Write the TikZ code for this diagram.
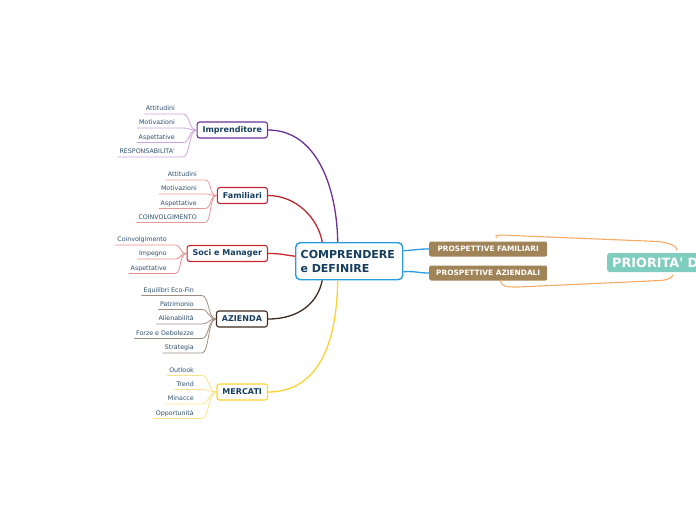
\documentclass[tikz,border=0pt]{standalone}
\usepackage{fontspec}
\newfontfamily\dvs{DejaVu Sans}
\usetikzlibrary{positioning}

\definecolor{txtblue}{RGB}{22,62,96}
\definecolor{leafblue}{RGB}{45,78,108}
\definecolor{impc}{RGB}{108,48,150}
\definecolor{impl}{RGB}{205,165,222}
\definecolor{famc}{RGB}{192,38,48}
\definecolor{faml}{RGB}{232,150,150}
\definecolor{socc}{RGB}{200,40,46}
\definecolor{socl}{RGB}{232,140,140}
\definecolor{azic}{RGB}{62,42,32}
\definecolor{azil}{RGB}{160,140,128}
\definecolor{merc}{RGB}{250,210,50}
\definecolor{merl}{RGB}{250,226,140}
\definecolor{ctrc}{RGB}{42,156,222}
\definecolor{prosp}{RGB}{160,131,86}
\definecolor{prio}{RGB}{126,205,190}
\definecolor{bracketc}{RGB}{246,170,100}

\begin{document}
\begin{tikzpicture}[x=1pt,y=-1pt,
  branch/.style={draw,fill=white,anchor=east,rounded corners=2.5pt,line width=1.1pt,
    font=\dvs\bfseries\fontsize{8}{9}\selectfont,text=txtblue,minimum height=16pt,inner xsep=5.5pt,inner ysep=0pt},
  leaf/.style={anchor=south east,font=\dvs\fontsize{6.3}{7}\selectfont,text=leafblue,
    inner xsep=2pt,inner ysep=2pt,text depth=1pt},
  twig/.style={line width=0.8pt},
  limb/.style={line width=1.3pt},
  tag/.style={anchor=west,fill=prosp,rounded corners=2pt,text=white,font=\dvs\bfseries\fontsize{7.4}{8}\selectfont,
    minimum height=15pt,minimum width=118pt,inner xsep=4pt,inner ysep=0pt}]
\useasboundingbox (0,0) rectangle (696,520);
\clip (0,0) rectangle (696,520);

% nodo centrale
\node[draw=ctrc,line width=1.4pt,rounded corners=4.5pt,fill=white,anchor=north west,
  minimum width=107pt,minimum height=37pt,text width=97pt,align=left,inner xsep=5pt,
  text=txtblue,font=\dvs\bfseries\fontsize{11}{14}\selectfont] (ctr) at (295,242) {COMPRENDERE\\e DEFINIRE};

% rami
\node[branch,draw=impc] (imp) at (268,130) {Imprenditore};
\node[branch,draw=famc] (fam) at (268,195.5) {Familiari};
\node[branch,draw=socc] (soc) at (268,253.5) {Soci e Manager};
\node[branch,draw=azic] (azi) at (268,319) {AZIENDA};
\node[branch,draw=merc] (mer) at (268,392) {MERCATI};

\draw[limb,impc] (imp.east) .. controls (318,130) and (337,190) .. ([shift={(-11.5,0)}]ctr.north);
\draw[limb,famc] (fam.east) .. controls (296,195.5) and (318,218) .. ([shift={(-27,0)}]ctr.north);
\draw[limb,socc] (soc.east) .. controls (282,253.5) and (284,255) .. ([shift={(0,-5)}]ctr.west);
\draw[limb,azic] (azi.east) .. controls (300,319) and (318,302) .. ([shift={(-27,0)}]ctr.south);
\draw[limb,merc] (mer.east) .. controls (320,392) and (337,340) .. ([shift={(-11.5,0)}]ctr.south);

% foglie
\foreach \txt/\yy [count=\i] in {Attitudini/114,Motivazioni/128,Aspettative/142.5,RESPONSABILITA'/157}{
  \node[leaf] (imp\i) at (177,\yy) {\txt};
  \draw[twig,impl] (imp\i.south west) -- (imp\i.south east) -- ++(6,0) .. controls +(7,0) and +(-8,0) .. (imp.west);
}
\foreach \txt/\yy [count=\i] in {Attitudini/180,Motivazioni/194,Aspettative/208.5,COINVOLGIMENTO/222.5}{
  \node[leaf] (fam\i) at (199,\yy) {\txt};
  \draw[twig,faml] (fam\i.south west) -- (fam\i.south east) -- ++(6,0) .. controls +(7,0) and +(-8,0) .. (fam.west);
}
\foreach \txt/\yy [count=\i] in {Coinvolgimento/245,Impegno/259,Aspettative/273.5}{
  \node[leaf] (soc\i) at (169,\yy) {\txt};
  \draw[twig,socl] (soc\i.south west) -- (soc\i.south east) -- ++(6,0) .. controls +(7,0) and +(-8,0) .. (soc.west);
}
\foreach \txt/\yy [count=\i] in {Equilibri Eco-Fin/295.5,Patrimonio/309.5,Alienabilità/324,Forze e Debolezze/338.5,Strategia/353}{
  \node[leaf] (azi\i) at (196,\yy) {\txt};
  \draw[twig,azil] (azi\i.south west) -- (azi\i.south east) -- ++(6,0) .. controls +(7,0) and +(-8,0) .. (azi.west);
}
\foreach \txt/\yy [count=\i] in {Outlook/375.5,Trend/389.5,Minacce/404,Opportunità/418.5}{
  \node[leaf] (mer\i) at (196,\yy) {\txt};
  \draw[twig,merl] (mer\i.south west) -- (mer\i.south east) -- ++(6,0) .. controls +(7,0) and +(-8,0) .. (mer.west);
}

% prospettive e priorita
\node[tag] (pf) at (429,249) {PROSPETTIVE FAMILIARI};
\node[tag] (pa) at (429,273) {PROSPETTIVE AZIENDALI};
\node[anchor=west,fill=prio,rounded corners=2.5pt,text=white,font=\dvs\bfseries\fontsize{12.8}{13}\selectfont,
  minimum height=19pt,text width=115pt,align=left,inner xsep=5pt,inner ysep=0pt] (pr) at (607,262.5) {PRIORITA' D};

\draw[limb,ctrc] ([shift={(0,-10.5)}]ctr.east) .. controls (416,250) and (418,249) .. (pf.west);
\draw[limb,ctrc] ([shift={(0,10.5)}]ctr.east) .. controls (416,271) and (418,273) .. (pa.west);

\draw[line width=1.1pt,bracketc] ([shift={(8,-3)}]pf.north) .. controls (494,234) and (500,235) .. (512,235.5)
  -- (658,241.5) .. controls (670,243) and (677,246) .. ([shift={(70,-2.5)}]pr.north west);
\draw[line width=1.1pt,bracketc] ([shift={(12,0)}]pa.south) .. controls (502,287) and (507,287) .. (518,287)
  -- (660,280.5) .. controls (668,280) and (672,278) .. ([shift={(66,2.5)}]pr.south west);
\end{tikzpicture}
\end{document}
